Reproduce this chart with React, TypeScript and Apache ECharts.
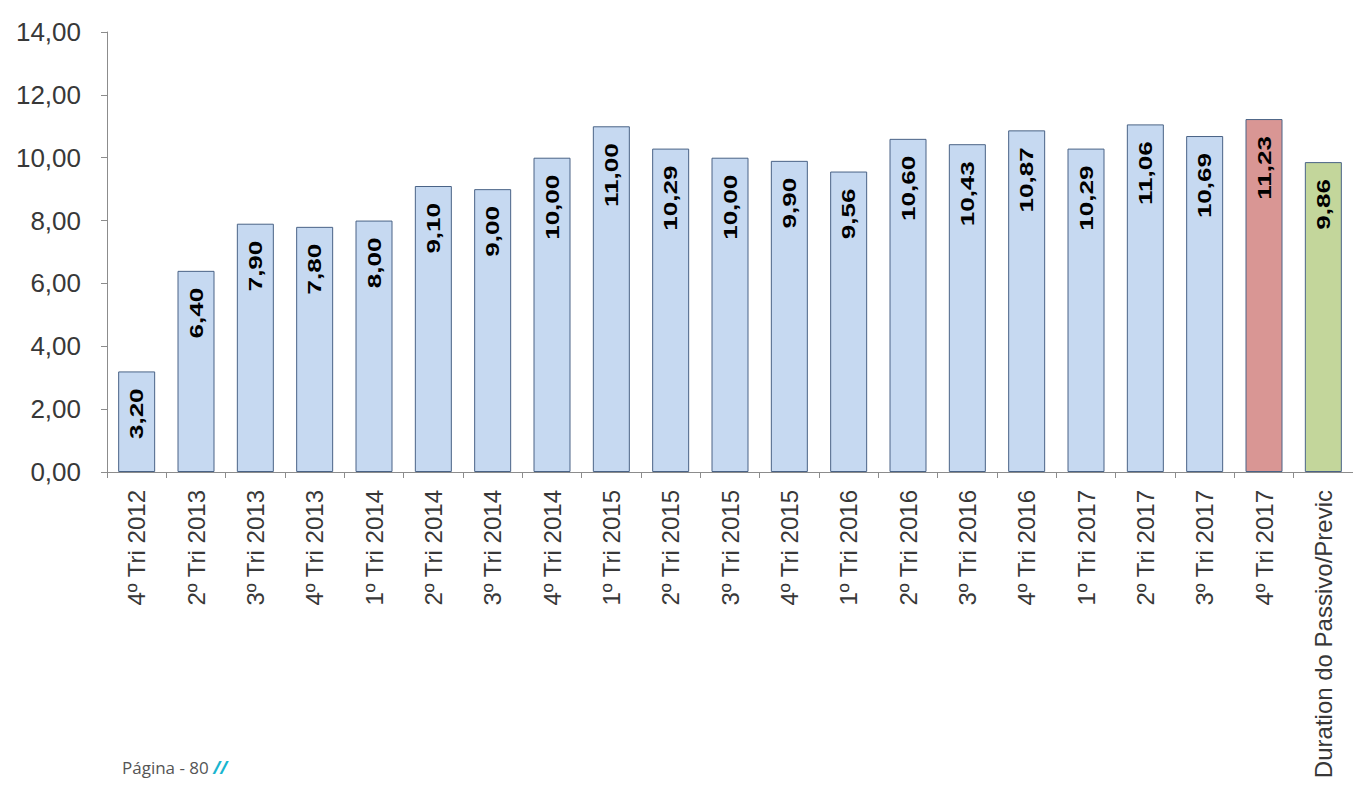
import React, { useEffect, useRef } from "react";
import * as echarts from "echarts";

const categories: string[] = [
  "4º Tri 2012", "2º Tri 2013", "3º Tri 2013", "4º Tri 2013", "1º Tri 2014",
  "2º Tri 2014", "3º Tri 2014", "4º Tri 2014", "1º Tri 2015", "2º Tri 2015",
  "3º Tri 2015", "4º Tri 2015", "1º Tri 2016", "2º Tri 2016", "3º Tri 2016",
  "4º Tri 2016", "1º Tri 2017", "2º Tri 2017", "3º Tri 2017", "4º Tri 2017",
  "Duration do Passivo/Previc",
];

const values: number[] = [
  3.2, 6.4, 7.9, 7.8, 8.0, 9.1, 9.0, 10.0, 11.0, 10.29,
  10.0, 9.9, 9.56, 10.6, 10.43, 10.87, 10.29, 11.06, 10.69, 11.23,
  9.86,
];

const barColors: string[] = [
  ...Array(19).fill("#c6d9f1"),
  "#d99694",
  "#c3d69b",
];

const yTicks = { min: 0, max: 14, interval: 2 };

const fmt = (v: number) => v.toFixed(2).replace(".", ",");

export default function App() {
  const ref = useRef<HTMLDivElement>(null);
  useEffect(() => {
    if (!ref.current) return;
    const chart = echarts.init(ref.current, null, { renderer: "svg" });
    chart.setOption({
      animation: false,
      backgroundColor: "#ffffff",
      grid: { left: 107, top: 32, width: 1249, bottom: 314, containLabel: false },
      xAxis: {
        type: "category",
        data: categories,
        axisLine: { show: true, lineStyle: { color: "#8c8c8c", width: 1 } },
        axisTick: { show: true, length: 6, lineStyle: { color: "#8c8c8c" } },
        axisLabel: {
          rotate: 90,
          margin: 18,
          interval: 0,
          color: "#383838",
          fontFamily: "'Liberation Sans', Arial, sans-serif",
          fontSize: 24,
        },
      },
      yAxis: {
        type: "value",
        min: yTicks.min,
        max: yTicks.max,
        interval: yTicks.interval,
        splitLine: { show: false },
        axisLine: { show: true, lineStyle: { color: "#8c8c8c", width: 1 } },
        axisTick: { show: true, length: 6, lineStyle: { color: "#8c8c8c" } },
        axisLabel: {
          margin: 26,
          color: "#383838",
          fontFamily: "'Liberation Sans', Arial, sans-serif",
          fontSize: 26,
          formatter: (v: number) => fmt(v),
        },
      },
      series: [
        {
          type: "bar",
          barWidth: 37,
          data: values.map((v, i) => ({
            value: v,
            itemStyle: { color: barColors[i], borderColor: "#4a6386", borderWidth: 1 },
          })),
        },
        {
          type: "custom",
          data: values.map((v, i) => [i, v]),
          encode: { x: 0, y: 1 },
          z: 10,
          renderItem: (params: any, api: any) => {
            const idx = api.value(0);
            const v = api.value(1);
            const pt = api.coord([idx, v]);
            return {
              type: "text",
              x: pt[0],
              y: pt[1] + 17,
              rotation: Math.PI / 2,
              scaleX: 1.37,
              style: {
                text: fmt(v),
                fontFamily: "'Liberation Sans', Arial, sans-serif",
                fontWeight: "bold",
                fontSize: 19,
                fill: "#000000",
                align: "right",
                verticalAlign: "middle",
              },
            };
          },
        },
      ],
      graphic: [
        {
          type: "text",
          left: 122,
          top: 759,
          style: {
            text: "{a|Página - 80 }{b|//}",
            rich: {
              a: {
                fontFamily: "'Open Sans', sans-serif",
                fontSize: 17,
                fill: "#555555",
              },
              b: {
                fontFamily: "'Open Sans', sans-serif",
                fontSize: 17,
                fontWeight: "bold",
                fontStyle: "italic",
                fill: "#19b5cf",
              },
            },
          },
        },
      ],
    });
    return () => chart.dispose();
  }, []);
  return (
    <div
      ref={ref}
      style={{ position: "fixed", left: 0, top: 0, width: 1353, height: 786 }}
    />
  );
}
